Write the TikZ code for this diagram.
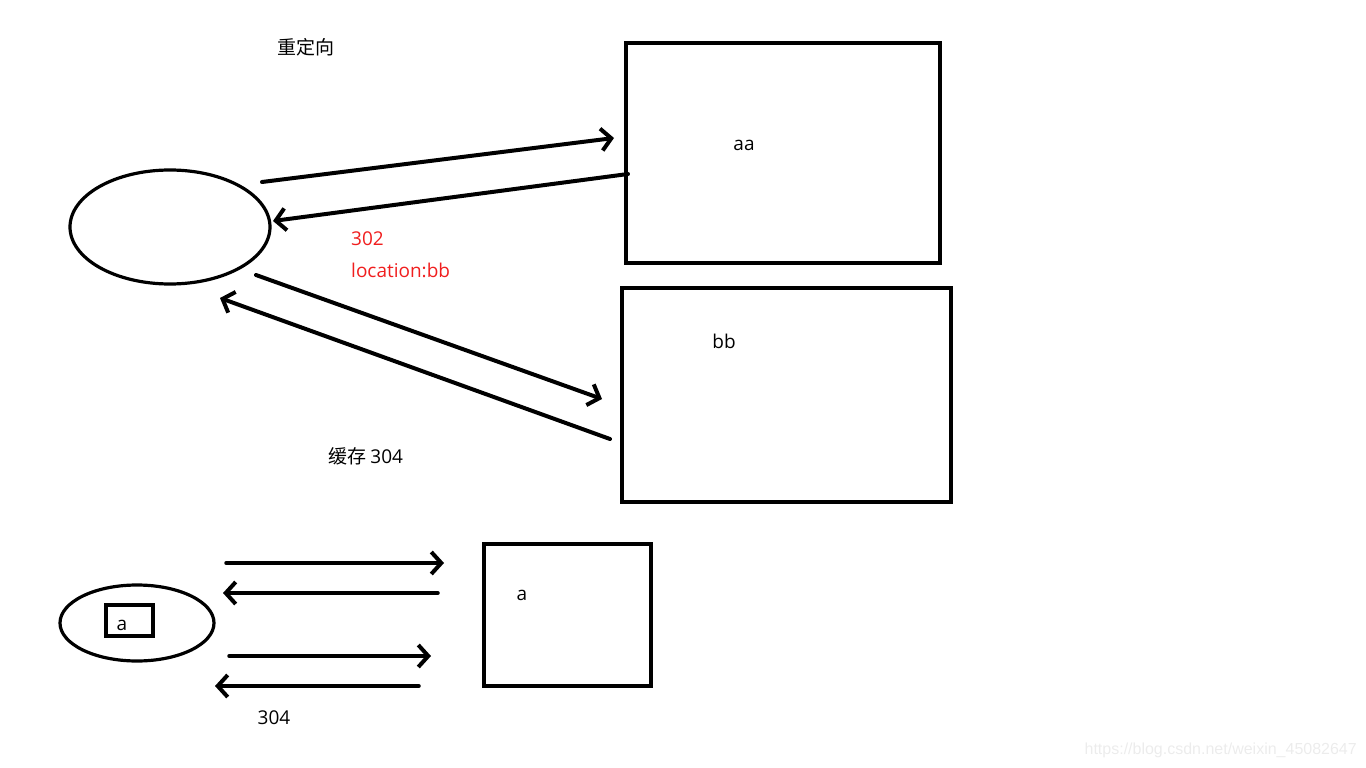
\documentclass[tikz,border=0pt]{standalone}
\usepackage{fontspec}
\setmainfont{Open Sans}
\newfontfamily\cjk{Noto Sans CJK SC}
\newfontfamily\wmfont{Liberation Sans}
\usetikzlibrary{shapes.geometric,arrows.meta}
\definecolor{redtxt}{RGB}{240,30,30}
\definecolor{wmark}{RGB}{236,236,236}
\tikzset{
  box/.style={draw, line width=4pt, inner sep=0pt},
  oval/.style={draw, ellipse, line width=3.2pt, inner sep=0pt},
  arr/.style={line width=4pt, line cap=round, -{Straight Barb[length=10pt,width=22pt,line width=4pt]}},
  lbl/.style={font=\fontsize{19}{22}\selectfont, inner sep=0pt},
  cjklbl/.style={font=\cjk\fontsize{19}{22}\selectfont, inner sep=0pt},
}
\begin{document}
\begin{tikzpicture}[x=1pt,y=-1pt]
\useasboundingbox (0,0) rectangle (1366,768);
% top part
\node[cjklbl, anchor=west] (title) at (277,47) {重定向};
\node[oval, minimum width=200, minimum height=114] (client) at (170,227) {};
\node[box, minimum width=314, minimum height=220] (aa) at (783,153) {};
\node[lbl] (aalbl) at (744,145) {aa};
\node[box, minimum width=329, minimum height=214] (bb) at (786.5,395) {};
\node[lbl] (bblbl) at (724,341) {bb};
\node[lbl, text=redtxt, anchor=west] (r302) at (351,239) {302};
\node[lbl, text=redtxt, anchor=west] (rloc) at (351,270) {location:bb};
\node[cjklbl, anchor=west] (cache) at (328,456) {缓存 {\fontspec{Open Sans}\fontsize{19}{22}\selectfont 304}};

\coordinate (a1s) at (262,182);
\coordinate (a1e) at (614,138);
\coordinate (a2s) at (628,174);
\coordinate (a2e) at (273,221);
\coordinate (a3s) at (256,275);
\coordinate (a3e) at (602,399);
\coordinate (a4s) at (610,439);
\coordinate (a4e) at (220,298);
\draw[arr] (a1s) -- (a1e);
\draw[arr] (a2s) -- (a2e);
\draw[arr] (a3s) -- (a3e);
\draw[arr] (a4s) -- (a4e);

% bottom part
\node[oval, minimum width=154, minimum height=76] (client2) at (137,623) {};
\node[box, line width=3.5pt, minimum width=47, minimum height=31] (cachebox) at (129.5,620.5) {};
\node[lbl] (cachea) at (122,625) {a};
\node[box, line width=3.5pt, minimum width=167, minimum height=142] (srv) at (567.5,615) {};
\node[lbl] (srva) at (522,595) {a};
\node[lbl] (l304) at (274,718) {304};

\coordinate (b1s) at (226,563);
\coordinate (b1e) at (444,563);
\coordinate (b2s) at (438,593);
\coordinate (b2e) at (223,593);
\coordinate (b3s) at (229,656);
\coordinate (b3e) at (431,656);
\coordinate (b4s) at (419,686);
\coordinate (b4e) at (215,686);
\draw[arr, line width=3.5pt] (b1s) -- (b1e);
\draw[arr, line width=3.5pt] (b2s) -- (b2e);
\draw[arr, line width=3.5pt] (b3s) -- (b3e);
\draw[arr, line width=3.5pt] (b4s) -- (b4e);

\node[font=\wmfont\fontsize{16}{18}\selectfont, text=wmark, anchor=east, inner sep=0pt] (wm) at (1357,750) {https://blog.csdn.net/weixin\_45082647};
\end{tikzpicture}
\end{document}
